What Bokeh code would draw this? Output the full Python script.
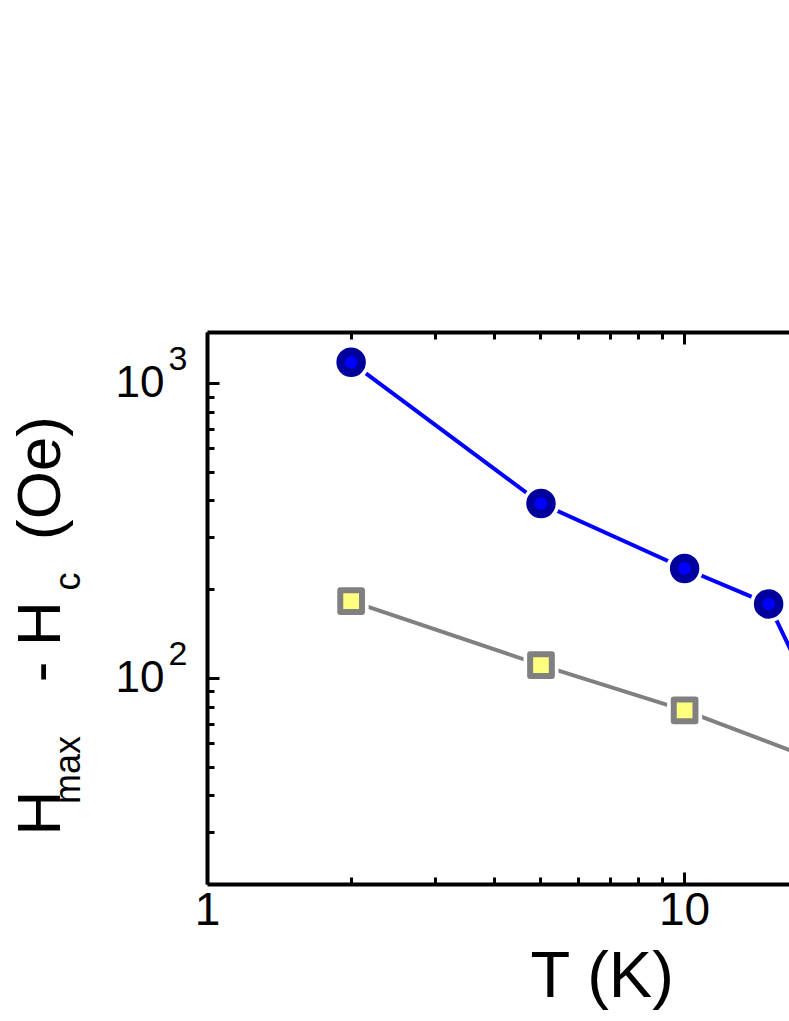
import math
from bokeh.plotting import figure
from bokeh.models import (Range1d, LogAxis, LinearAxis, FixedTicker, LinearScale,
                          CustomJSTickFormatter)
from bokeh.embed import file_html
from bokeh.resources import INLINE

# ---- data ----
T_blue = [2, 5, 10, 15, 20]
H_blue = [1180, 392, 236, 179, 68]
T_gray = [2, 5, 10, 20]
H_gray = [183, 111, 78, 51]

x_major = [1, 10]
x_minor = [2, 3, 4, 5, 6, 7, 8, 9]
y_major = [100, 1000]
y_minor = [20, 30, 40, 50, 60, 70, 80, 90, 200, 300, 400, 500, 600, 700, 800, 900]
y_tick_base = ["10", "10"]
y_tick_exp = ["2", "3"]

# axis titles: text pieces (positions are pixels inside the frame)
ytitle_main = ["H", "-", "H", "(Oe)"]
ytitle_main_pos = [71.5, 212.5, 261, 406.5]
ytitle_sub = ["max", "c"]
ytitle_sub_pos = [114.5, 303]
xtitle = ["T (K)"]
xtitle_pos = [396]

FONT = "Liberation Sans"
FRAME_W, FRAME_H = 583, 552
X0, X1 = 1, 16.59
Y0, Y1 = 20.03, 1489

p = figure(width=789, height=1021, x_axis_type="log", y_axis_type="log",
           x_range=Range1d(X0, X1), y_range=Range1d(Y0, Y1),
           output_backend="svg", toolbar_location=None,
           min_border_left=206, min_border_right=0,
           min_border_top=332, min_border_bottom=137)
p.outline_line_color = None
p.grid.visible = False
p.background_fill_color = "white"
p.border_fill_color = "white"
p.extra_x_ranges = {"px": Range1d(0, FRAME_W)}
p.extra_y_ranges = {"py": Range1d(0, FRAME_H)}
p.extra_x_scales = {"px": LinearScale()}
p.extra_y_scales = {"py": LinearScale()}

bottom = p.below[0]
left = p.left[0]
top = LogAxis(ticker=FixedTicker(ticks=x_major, minor_ticks=x_minor),
              formatter=CustomJSTickFormatter(code="return ''"))
p.add_layout(top, "above")

bottom.ticker = FixedTicker(ticks=x_major, minor_ticks=x_minor)
bottom.formatter = CustomJSTickFormatter(code="return String(tick)")
left.ticker = FixedTicker(ticks=y_major, minor_ticks=y_minor)
left.formatter = CustomJSTickFormatter(code="return ''")
left.major_label_standoff = 0

for ax in [bottom, left, top]:
    ax.axis_line_width = 4
    ax.axis_line_color = "black"
    ax.major_tick_line_width = 3
    ax.minor_tick_line_width = 3
    ax.major_tick_line_color = "black"
    ax.minor_tick_line_color = "black"
    ax.major_tick_in = 12
    ax.major_tick_out = 0
    ax.minor_tick_in = 7
    ax.minor_tick_out = 0
    ax.major_label_text_font = FONT
    ax.major_label_text_color = "black"

bottom.major_label_text_font_size = "46px"
bottom.major_label_standoff = 8


def text_axis(rng_name, horizontal_axis, ticks, texts, size, standoff, orient):
    kw = {"x_range_name": rng_name} if horizontal_axis else {"y_range_name": rng_name}
    ax = LinearAxis(ticker=FixedTicker(ticks=ticks, minor_ticks=[]),
                    major_label_overrides={t: s for t, s in zip(ticks, texts)}, **kw)
    ax.axis_line_color = None
    ax.major_tick_line_color = None
    ax.minor_tick_line_color = None
    ax.major_tick_in = 0
    ax.major_tick_out = 0
    ax.minor_tick_in = 0
    ax.minor_tick_out = 0
    ax.major_label_text_font = FONT
    ax.major_label_text_font_size = f"{size}px"
    ax.major_label_text_color = "black"
    ax.major_label_standoff = standoff
    ax.major_label_orientation = orient
    return ax


# y tick labels 10^n, built as "10" + raised exponent, at the tick pixel positions
def tick_px(v):
    return FRAME_H * (math.log10(v) - math.log10(Y0)) / (math.log10(Y1) - math.log10(Y0))

exp_pos = [round(tick_px(v) + 25, 1) for v in y_major]
base_pos = [round(tick_px(v) + 2, 1) for v in y_major]
exp_ax = text_axis("py", False, exp_pos, y_tick_exp, 34, 20, "horizontal")
base_ax = text_axis("py", False, base_pos, y_tick_base, 44, 1, "horizontal")
sub_ax = text_axis("py", False, ytitle_sub_pos, ytitle_sub, 36, 25, "vertical")
main_ax = text_axis("py", False, ytitle_main_pos, ytitle_main, 62, -29, "vertical")
for ax in [exp_ax, base_ax, sub_ax, main_ax]:
    p.add_layout(ax, "left")

x_ax = text_axis("px", True, xtitle_pos, xtitle, 65, 10, "horizontal")
p.add_layout(x_ax, "below")

# ---- series ----
p.line(T_gray, H_gray, line_color="#808080", line_width=4)
p.line(T_blue, H_blue, line_color="#0000FF", line_width=4)
p.scatter(T_gray, H_gray, marker="square", size=35, fill_color="white", line_color=None)
p.scatter(T_blue, H_blue, marker="circle", size=37, fill_color="white", line_color=None)
p.scatter(T_gray, H_gray, marker="square", size=21.7, fill_color="#FFFF80",
          line_color="#808080", line_width=6, line_join="round")
p.scatter(T_blue, H_blue, marker="circle", size=21, fill_color="#0000FF",
          line_color="#00009C", line_width=8.5)

open("out.html", "w").write(file_html(p, INLINE))
